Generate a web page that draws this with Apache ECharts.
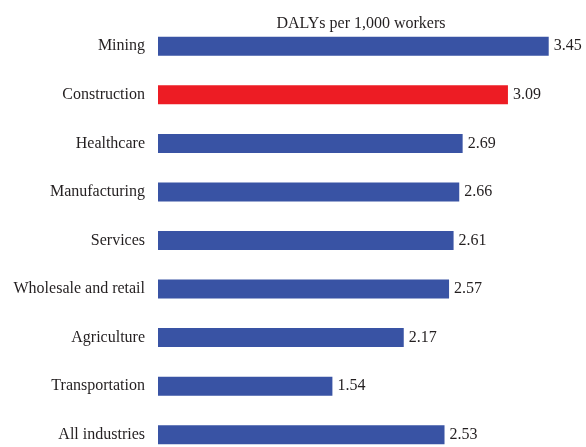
<!DOCTYPE html>
<html>
<head>
<meta charset="utf-8">
<script src="https://cdn.jsdelivr.net/npm/echarts@6/dist/echarts.min.js"></script>
<style>
  html, body { margin: 0; padding: 0; background: #fff; }
  #chart { width: 586px; height: 447px; }
</style>
</head>
<body>
<div id="chart"></div>
<script>
// industries, top to bottom
var industries = ['Mining', 'Construction', 'Healthcare', 'Manufacturing', 'Services',
    'Wholesale and retail', 'Agriculture', 'Transportation', 'All industries'];
var dalys = [3.45, 3.09, 2.69, 2.66, 2.61, 2.57, 2.17, 1.54, 2.53];
var highlight = 'Construction';

var blue = '#3953a4';
var red = '#ed1c24';
var font = '"Liberation Serif", "Times New Roman", serif';

var chart = echarts.init(document.getElementById('chart'));

var option = {
    animation: false,
    title: {
        text: 'DALYs per 1,000 workers',
        left: 356,
        top: 11,
        textAlign: 'center',
        textStyle: { fontFamily: font, fontSize: 16, fontWeight: 'normal', color: '#231f20' }
    },
    grid: { left: 158, top: 22, width: 453, height: 437, outerBoundsMode: 'none' },
    xAxis: {
        type: 'value',
        min: 0,
        max: 4,
        show: false
    },
    yAxis: {
        type: 'category',
        inverse: true,
        data: industries,
        axisLine: { show: false },
        axisTick: { show: false },
        axisLabel: {
            margin: 13,
            fontFamily: font,
            fontSize: 16,
            color: '#231f20'
        }
    },
    series: [{
        type: 'bar',
        barWidth: 19,
        data: dalys.map(function (v, i) {
            return {
                value: v,
                itemStyle: { color: industries[i] === highlight ? red : blue }
            };
        }),
        label: {
            show: true,
            position: 'right',
            distance: 5,
            fontFamily: font,
            fontSize: 16,
            color: '#231f20',
            formatter: function (p) { return p.value.toFixed(2); }
        }
    }]
};

chart.setOption(option);
</script>
</body>
</html>
